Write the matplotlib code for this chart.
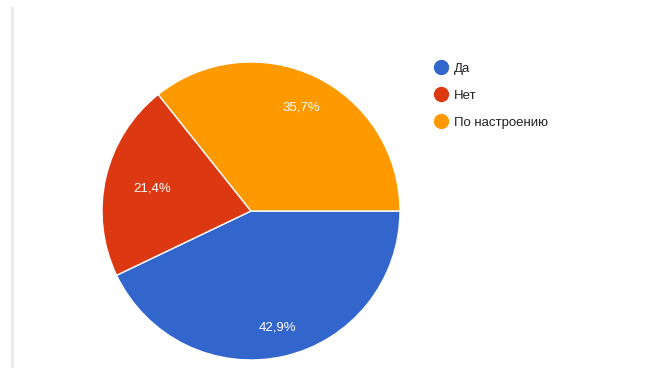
import matplotlib
matplotlib.use("Agg")
import matplotlib.pyplot as plt
from matplotlib.lines import Line2D
import numpy as np

categories = ["Да", "Нет", "По настроению"]
values = [42.9, 21.4, 35.7]
colors = ["#3366cc", "#dc3912", "#ff9900"]
label_dist = [0.80, 0.68, 0.77]

plt.rcParams['font.family'] = ['Liberation Sans', 'DejaVu Sans']

fig = plt.figure(figsize=(6.72, 3.74), dpi=100)
fig.patch.set_facecolor("white")

# light vertical rule on the left
fig.add_artist(Line2D([12/672, 12/672], [8/374, 366/374], color="#e6e6e6", lw=1.8,
                      transform=fig.transFigure))

ax = fig.add_axes([102/672, 14/374, 298/672, 298/374])
wedges, texts, autotexts = ax.pie(
    values, colors=colors, startangle=0, counterclock=False,
    autopct=lambda p: f"{p:.1f}%".replace(".", ","), pctdistance=0.75,
    wedgeprops=dict(edgecolor="white", linewidth=1),
    textprops=dict(color="white", fontsize=9.5))
for w, t, d in zip(wedges, autotexts, label_dist):
    ang = np.deg2rad((w.theta1 + w.theta2) / 2)
    t.set_position((d * np.cos(ang), d * np.sin(ang)))
ax.set_xlim(-1, 1)
ax.set_ylim(-1, 1)
ax.set_aspect("equal")
ax.axis("off")

handles = [Line2D([], [], marker="o", linestyle="", markersize=10,
                  markerfacecolor=c, markeredgecolor=c) for c in colors]
leg = fig.legend(handles, categories, loc="upper left",
                 bbox_to_anchor=(428/672, 1 - 57/374), frameon=False,
                 fontsize=9.5, handletextpad=0.35, labelspacing=1.12,
                 handlelength=1.2, borderaxespad=0)
for t in leg.get_texts():
    t.set_color("#222222")

fig.savefig("out.png", dpi=100)
